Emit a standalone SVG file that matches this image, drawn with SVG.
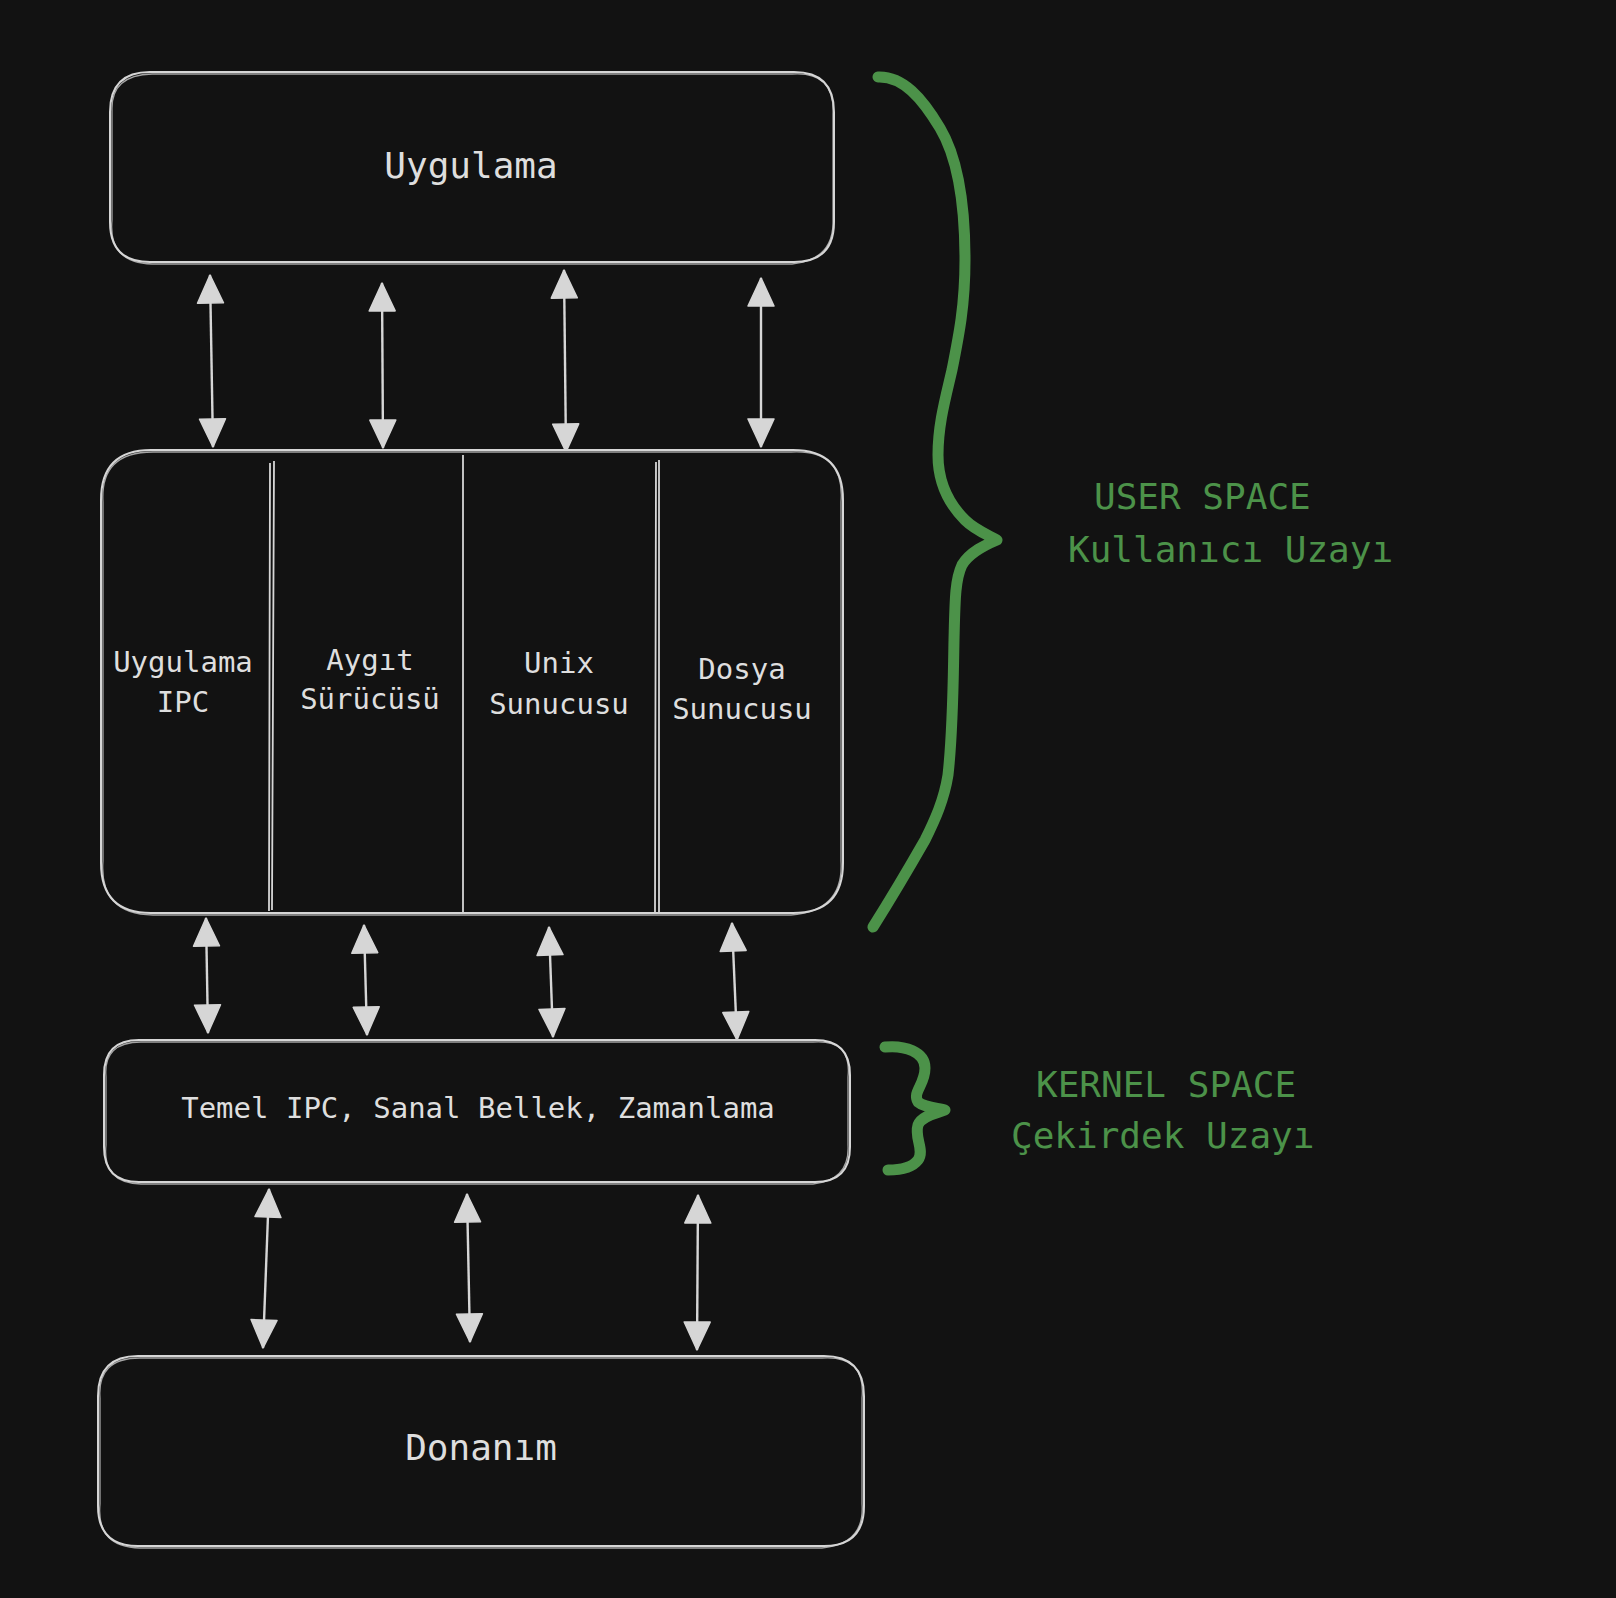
<svg xmlns="http://www.w3.org/2000/svg" width="1616" height="1598" viewBox="0 0 1616 1598">
<defs>
<style>
.box{fill:#121212;stroke:#d6d6d6;stroke-width:2;stroke-linejoin:round}
.sk{fill:none;stroke:#d6d6d6;stroke-width:1.3;stroke-opacity:0.75}
.div{fill:none;stroke:#d6d6d6;stroke-width:1.8}
.t{font-family:"DejaVu Sans Mono","Liberation Mono",monospace;fill:#dedede;text-anchor:middle}
.big{font-size:36px}
.small{font-size:29px}
.g{font-family:"DejaVu Sans Mono","Liberation Mono",monospace;fill:#4c9249;font-size:36px}
.arr{stroke:#d6d6d6;stroke-width:2.4;fill:none;marker-start:url(#head);marker-end:url(#head)}
.brace{fill:none;stroke:#4c9249;stroke-width:11;stroke-linecap:round;stroke-linejoin:round}
</style>
<marker id="head" markerUnits="userSpaceOnUse" markerWidth="32" markerHeight="30" refX="28" refY="13" orient="auto-start-reverse" viewBox="-2 -2 32 30">
<path d="M0,0 L28,13 L0,26 Z" fill="#d6d6d6" stroke="#d6d6d6" stroke-width="1.5" stroke-linejoin="round"/>
</marker>
</defs>
<rect width="1616" height="1598" fill="#121212"/>

<g id="connectors">
<line class="arr" x1="210" y1="275" x2="213" y2="447"/>
<line class="arr" x1="382" y1="283" x2="383" y2="448"/>
<line class="arr" x1="564" y1="270" x2="566" y2="452"/>
<line class="arr" x1="761" y1="278" x2="761" y2="447"/>
<line class="arr" x1="206" y1="918" x2="208" y2="1033"/>
<line class="arr" x1="364" y1="925" x2="367" y2="1035"/>
<line class="arr" x1="549" y1="927" x2="553" y2="1037"/>
<line class="arr" x1="732" y1="923" x2="737" y2="1040"/>
<line class="arr" x1="269" y1="1189" x2="263" y2="1348"/>
<line class="arr" x1="467" y1="1194" x2="470" y2="1342"/>
<line class="arr" x1="698" y1="1195" x2="697" y2="1350"/>
</g>

<g id="uygulama">
<path class="box" d="M150,72 H794 Q834,72 834,112 V222 Q834,262 794,262 H150 Q110,262 110,222 V112 Q110,72 150,72 Z"/>
<path class="sk" d="M152,74 H792 Q835,71 833,114 V224 Q832,260 792,264 H152 Q108,263 112,220 V110 Q111,75 152,74"/>
<text class="t big" x="471" y="178">Uygulama</text>
</g>

<g id="servers">
<path class="box" d="M151,450 H793 Q843,450 843,500 V863 Q843,913 793,913 H151 Q101,913 101,863 V500 Q101,450 151,450 Z"/>
<path class="sk" d="M153,452 H791 Q845,449 841,502 V861 Q844,911 791,915 H153 Q99,914 103,861 V502 Q100,452 153,452"/>
<path class="div" d="M274,461 L272,910 M270,463 L269,911"/>
<path class="div" d="M463,455 L463,912"/>
<path class="div" d="M656,462 L655,912 M659,460 L659,912"/>
<text class="t small" x="183" y="672">Uygulama</text>
<text class="t small" x="183" y="712">IPC</text>
<text class="t small" x="370" y="670">Aygıt</text>
<text class="t small" x="370" y="709">Sürücüsü</text>
<text class="t small" x="559" y="673">Unix</text>
<text class="t small" x="559" y="714">Sunucusu</text>
<text class="t small" x="742" y="679">Dosya</text>
<text class="t small" x="742" y="719">Sunucusu</text>
</g>

<g id="kernel">
<path class="box" d="M139,1040 H815 Q850,1040 850,1075 V1147 Q850,1182 815,1182 H139 Q104,1182 104,1147 V1075 Q104,1040 139,1040 Z"/>
<path class="sk" d="M141,1042 H813 Q852,1039 848,1077 V1145 Q850,1180 813,1184 H141 Q102,1183 106,1145 V1077 Q103,1042 141,1042"/>
<text class="t small" x="478" y="1118">Temel IPC, Sanal Bellek, Zamanlama</text>
</g>

<g id="donanim">
<path class="box" d="M138,1356 H824 Q864,1356 864,1396 V1506 Q864,1546 824,1546 H138 Q98,1546 98,1506 V1396 Q98,1356 138,1356 Z"/>
<path class="sk" d="M140,1358 H822 Q866,1355 862,1398 V1504 Q865,1544 822,1548 H140 Q96,1547 100,1504 V1398 Q97,1358 140,1358"/>
<text class="t big" x="481" y="1460">Donanım</text>
</g>

<g id="user-space">
<path class="brace" d="M878,77 C903,76 922,98 940,128 C958,158 965,205 965,260 C965,305 959,335 952,370 C945,400 938,425 938,455 C938,485 950,505 965,520 C975,530 988,535 997,540 C985,545 970,552 962,565 C955,580 955,600 954,640 C953,690 953,730 948,775 C944,800 935,820 925,840 C905,875 890,900 873,927"/>
<text class="g" x="1094" y="509">USER SPACE</text>
<text class="g" x="1068" y="562">Kullanıcı Uzayı</text>
</g>

<g id="kernel-space">
<path class="brace" stroke-width="12" d="M885,1047 C905,1045 925,1052 925,1068 C925,1085 912,1092 918,1102 C925,1108 940,1108 945,1110 C938,1113 922,1115 918,1125 C914,1138 925,1150 918,1160 C912,1168 900,1170 888,1170"/>
<text class="g" x="1036" y="1097">KERNEL SPACE</text>
<text class="g" x="1011" y="1148">Çekirdek Uzayı</text>
</g>
</svg>
